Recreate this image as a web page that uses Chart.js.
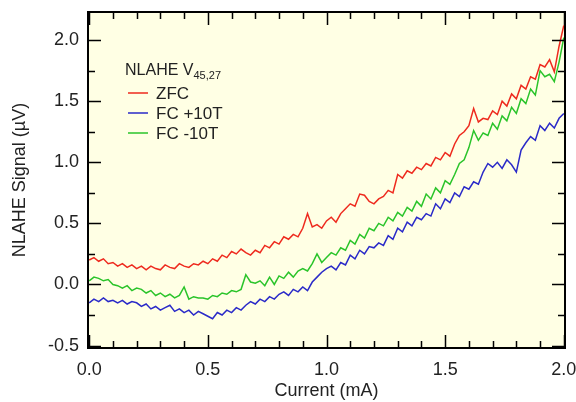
<!DOCTYPE html>
<html>
<head>
<meta charset="utf-8">
<script src="https://cdn.jsdelivr.net/npm/chart.js@4/dist/chart.umd.min.js"></script>
<style>
  html, body { margin: 0; padding: 0; background: #fff; }
  #wrap { width: 576px; height: 402px; }
</style>
</head>
<body>
<div id="wrap"><canvas id="chart-nlahe" width="576" height="402"></canvas></div>
<script>
// current sweep (mA)
const currentMA = [
  0.00, 0.02, 0.04, 0.06, 0.08, 0.10, 0.12, 0.14, 0.16, 0.18,
  0.20, 0.22, 0.24, 0.26, 0.28, 0.30, 0.32, 0.34, 0.36, 0.38,
  0.40, 0.42, 0.44, 0.46, 0.48, 0.50, 0.52, 0.54, 0.56, 0.58,
  0.60, 0.62, 0.64, 0.66, 0.68, 0.70, 0.72, 0.74, 0.76, 0.78,
  0.80, 0.82, 0.84, 0.86, 0.88, 0.90, 0.92, 0.94, 0.96, 0.98,
  1.00, 1.02, 1.04, 1.06, 1.08, 1.10, 1.12, 1.14, 1.16, 1.18,
  1.20, 1.22, 1.24, 1.26, 1.28, 1.30, 1.32, 1.34, 1.36, 1.38,
  1.40, 1.42, 1.44, 1.46, 1.48, 1.50, 1.52, 1.54, 1.56, 1.58,
  1.60, 1.62, 1.64, 1.66, 1.68, 1.70, 1.72, 1.74, 1.76, 1.78,
  1.80, 1.82, 1.84, 1.86, 1.88, 1.90, 1.92, 1.94, 1.96, 1.98,
  2.00
];

// NLAHE signal (uV)
const zfc = [
  0.20, 0.22, 0.19, 0.21, 0.17, 0.18, 0.15, 0.17, 0.14, 0.16,
  0.13, 0.15, 0.12, 0.15, 0.13, 0.12, 0.16, 0.14, 0.13, 0.17,
  0.15, 0.14, 0.17, 0.16, 0.19, 0.17, 0.21, 0.19, 0.24, 0.22,
  0.27, 0.25, 0.29, 0.26, 0.24, 0.28, 0.26, 0.32, 0.30, 0.35,
  0.33, 0.39, 0.37, 0.41, 0.39, 0.46, 0.58, 0.47, 0.49, 0.46,
  0.52, 0.55, 0.51, 0.58, 0.62, 0.66, 0.64, 0.74, 0.73, 0.68,
  0.66, 0.70, 0.72, 0.77, 0.75, 0.90, 0.87, 0.93, 0.91, 0.96,
  0.94, 0.99, 0.97, 1.04, 1.02, 1.08, 1.05, 1.15, 1.22, 1.25,
  1.30, 1.44, 1.33, 1.36, 1.35, 1.42, 1.39, 1.50, 1.46, 1.56,
  1.52, 1.63, 1.60, 1.70, 1.68, 1.80, 1.78, 1.84, 1.74, 1.95,
  2.12
];
const fcPlus10 = [
  -0.15, -0.12, -0.14, -0.11, -0.14, -0.13, -0.15, -0.13, -0.16, -0.14,
  -0.15, -0.18, -0.16, -0.20, -0.18, -0.21, -0.19, -0.17, -0.22, -0.20,
  -0.23, -0.21, -0.25, -0.22, -0.24, -0.26, -0.28, -0.23, -0.25, -0.21,
  -0.23, -0.19, -0.21, -0.17, -0.14, -0.16, -0.12, -0.14, -0.10, -0.12,
  -0.08, -0.06, -0.09, -0.04, -0.06, -0.02, -0.05, 0.02, 0.06, 0.10,
  0.13, 0.15, 0.12, 0.18, 0.16, 0.24, 0.21, 0.28, 0.25, 0.31,
  0.30, 0.34, 0.32, 0.40, 0.37, 0.46, 0.43, 0.51, 0.48, 0.55,
  0.53, 0.58, 0.56, 0.66, 0.62, 0.70, 0.67, 0.75, 0.72, 0.80,
  0.78, 0.84, 0.82, 0.92, 0.99, 0.96, 1.00, 0.95, 1.02, 0.98,
  0.92, 1.10, 1.16, 1.21, 1.18, 1.30, 1.26, 1.32, 1.28, 1.36,
  1.40
];
const fcMinus10 = [
  0.03, 0.06, 0.05, 0.03, 0.04, 0.00, -0.01, -0.03, -0.01, -0.05,
  -0.03, -0.04, -0.07, -0.05, -0.09, -0.07, -0.10, -0.08, -0.11, -0.09,
  -0.02, -0.12, -0.10, -0.11, -0.11, -0.12, -0.09, -0.10, -0.07, -0.08,
  -0.05, -0.06, -0.04, 0.08, 0.02, 0.01, 0.03, -0.01, 0.06, 0.00,
  0.07, 0.05, 0.10, 0.06, 0.11, 0.13, 0.11, 0.17, 0.25, 0.18,
  0.22, 0.26, 0.24, 0.30, 0.28, 0.36, 0.33, 0.41, 0.38, 0.46,
  0.44, 0.50, 0.48, 0.55, 0.52, 0.59, 0.56, 0.63, 0.60, 0.68,
  0.64, 0.74, 0.70, 0.79, 0.75, 0.85, 0.82, 0.90, 0.99, 1.02,
  1.12, 1.26, 1.18, 1.24, 1.22, 1.32, 1.27, 1.38, 1.34, 1.45,
  1.40, 1.52, 1.48, 1.60, 1.55, 1.75, 1.70, 1.72, 1.66, 1.82,
  2.02
];

const seriesLabels = ['ZFC', 'FC +10T', 'FC -10T'];
const xTickValues = [0, 0.5, 1, 1.5, 2];
const yTickValues = [-0.5, 0, 0.5, 1, 1.5, 2];

const FONT = "'Liberation Sans', Arial, sans-serif";
const colores = { zfc: '#ee2a1e', fcPlus: '#2a2ac8', fcMinus: '#2ac42a' };

function puntos(valores) {
  return currentMA.map((x, i) => ({ x, y: valores[i] }));
}

function sinPadding(scale) {
  scale.paddingTop = 0;
  scale.paddingBottom = 0;
  scale.paddingLeft = 0;
  scale.paddingRight = 0;
}

const fondoPlot = {
  id: 'fondoPlot',
  beforeDatasetsDraw(chart) {
    const { ctx, chartArea: a } = chart;
    ctx.save();
    ctx.fillStyle = '#ffffe4';
    ctx.fillRect(a.left, a.top, a.width, a.height);
    ctx.restore();
  }
};

// Igor-style frame with inward ticks on all four sides
const marcoTicks = {
  id: 'marcoTicks',
  afterDatasetsDraw(chart) {
    const { ctx, chartArea: a, scales: { x, y } } = chart;
    ctx.save();
    ctx.strokeStyle = '#000';
    ctx.lineWidth = 1.5;
    ctx.beginPath();
    for (let i = 0; i <= 20; i++) {
      const px = Math.round(x.getPixelForValue(i / 10)) + 0.5;
      const len = i % 5 === 0 ? 13 : 7;
      ctx.moveTo(px, a.bottom); ctx.lineTo(px, a.bottom - len);
      ctx.moveTo(px, a.top); ctx.lineTo(px, a.top + len);
    }
    for (let i = -2; i <= 8; i++) {
      const py = Math.round(y.getPixelForValue(i * 0.25)) + 0.5;
      const len = i % 2 === 0 ? 13 : 7;
      ctx.moveTo(a.left, py); ctx.lineTo(a.left + len, py);
      ctx.moveTo(a.right, py); ctx.lineTo(a.right - len, py);
    }
    ctx.stroke();
    ctx.lineWidth = 2;
    ctx.strokeRect(a.left, a.top, a.width, a.height);
    ctx.restore();
  },
  afterDraw(chart) {
    const { ctx } = chart;
    ctx.save();
    ctx.fillStyle = '#222';
    ctx.textBaseline = 'alphabetic';
    ctx.font = '16px ' + FONT;
    ctx.fillText('NLAHE V', 125, 75);
    const w = ctx.measureText('NLAHE V').width;
    ctx.font = '11px ' + FONT;
    ctx.fillText('45,27', 125 + w, 79);
    chart.data.datasets.forEach((ds, i) => {
      const yy = 93 + i * 20;
      ctx.strokeStyle = ds.borderColor;
      ctx.lineWidth = 1.5;
      ctx.beginPath();
      ctx.moveTo(128, yy);
      ctx.lineTo(148, yy);
      ctx.stroke();
      ctx.font = '17px ' + FONT;
      ctx.textBaseline = 'middle';
      ctx.fillText(ds.label, 156, yy + 1);
    });
    ctx.restore();
  }
};

function serie(label, valores, color) {
  return {
    label,
    data: puntos(valores),
    borderColor: color,
    backgroundColor: color,
    borderWidth: 1.5,
    pointRadius: 0,
    tension: 0,
    fill: false
  };
}

new Chart(document.getElementById('chart-nlahe'), {
  type: 'line',
  data: {
    datasets: [
      serie(seriesLabels[0], zfc, colores.zfc),
      serie(seriesLabels[1], fcPlus10, colores.fcPlus),
      serie(seriesLabels[2], fcMinus10, colores.fcMinus)
    ]
  },
  options: {
    responsive: false,
    animation: false,
    layout: { padding: { left: 4, top: 12, right: 11, bottom: 0 } },
    plugins: { legend: { display: false }, tooltip: { enabled: false } },
    scales: {
      x: {
        type: 'linear',
        min: -0.005,
        max: 2.005,
        afterBuildTicks: (scale) => { scale.ticks = xTickValues.map((v) => ({ value: v })); },
        afterFit: (scale) => { scale.height = 54; sinPadding(scale); },
        grid: { display: false, drawTicks: false },
        border: { display: false },
        ticks: {
          padding: 11,
          color: '#222',
          font: { family: FONT, size: 18 },
          maxRotation: 0,
          callback: (v) => Number(v).toFixed(1)
        },
        title: {
          display: true,
          text: 'Current (mA)',
          color: '#222',
          font: { family: FONT, size: 18 },
          padding: { top: 0, bottom: 0 }
        }
      },
      y: {
        min: -0.52,
        max: 2.23,
        afterBuildTicks: (scale) => { scale.ticks = yTickValues.map((v) => ({ value: v })); },
        afterFit: (scale) => { scale.width = 84; sinPadding(scale); },
        grid: { display: false, drawTicks: false },
        border: { display: false },
        ticks: {
          padding: 9,
          color: '#222',
          font: { family: FONT, size: 18 },
          callback: (v) => Number(v).toFixed(1)
        },
        title: {
          display: true,
          text: 'NLAHE Signal (µV)',
          color: '#222',
          font: { family: FONT, size: 18 },
          padding: { top: 5, bottom: 0 }
        }
      }
    }
  },
  plugins: [fondoPlot, marcoTicks]
});
</script>
</body>
</html>
